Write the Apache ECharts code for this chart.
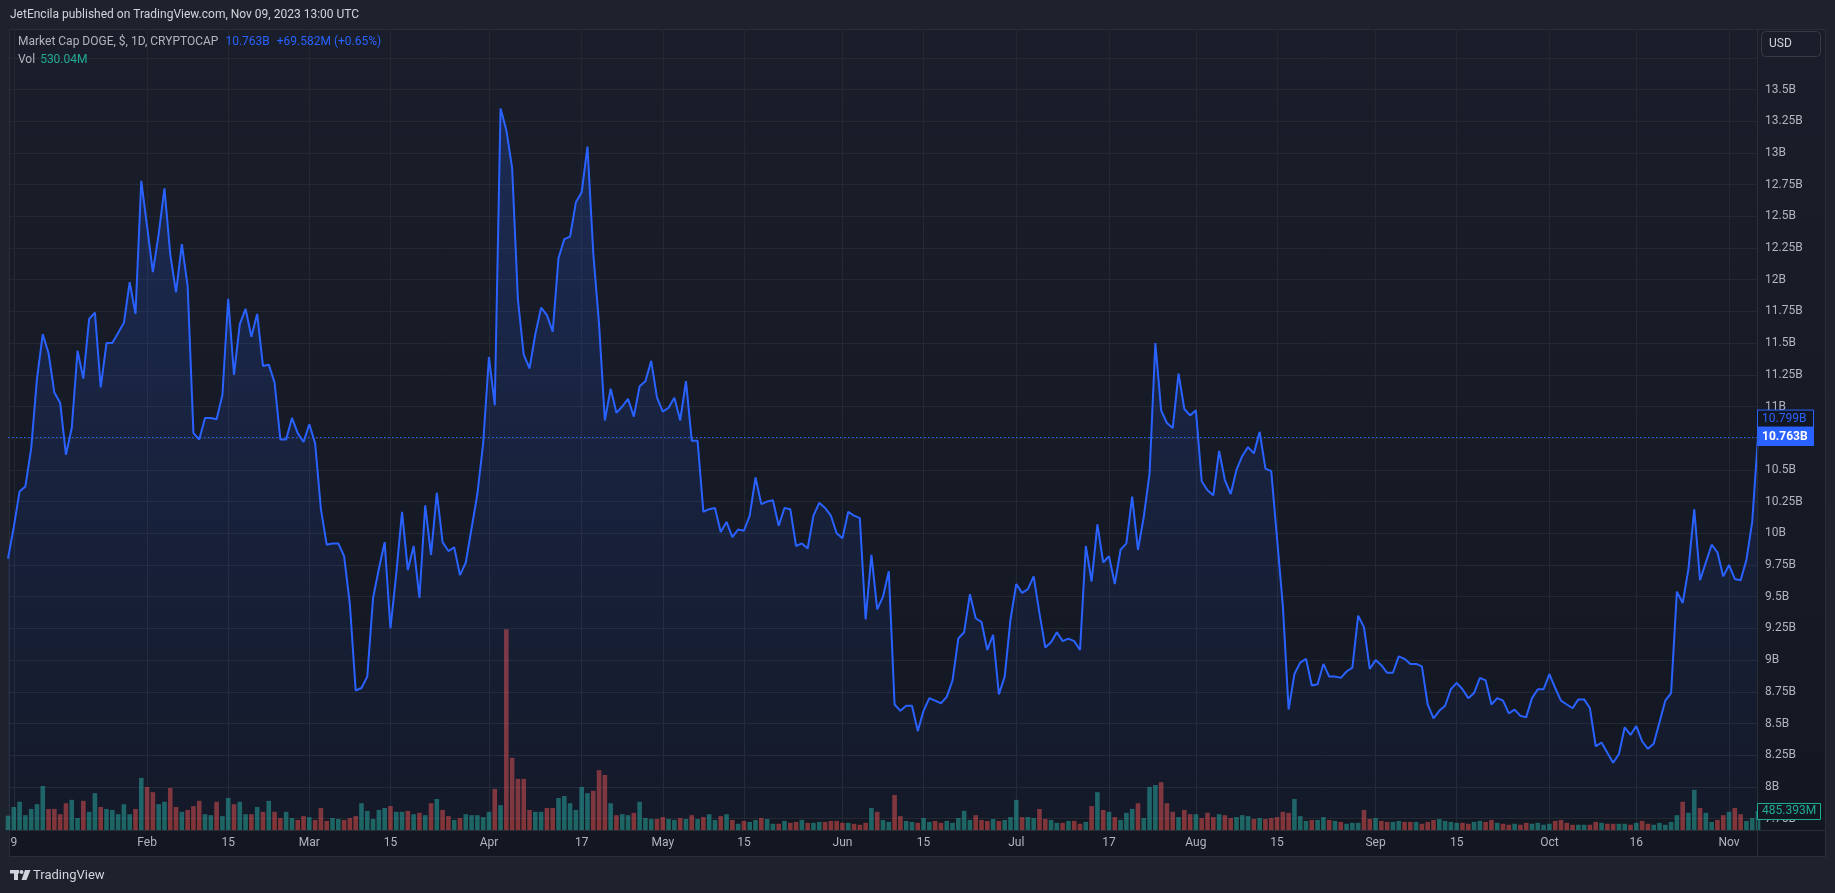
<!DOCTYPE html>
<html>
<head>
<meta charset="utf-8">
<script src="https://cdn.jsdelivr.net/npm/echarts@6/dist/echarts.min.js"></script>
<style>
html,body{margin:0;padding:0;background:#1e222d;}
#c{width:1835px;height:893px;}
</style>
</head>
<body>
<div id="c"></div>
<script>
// ---- data ----
const startDate = [2023, 0, 8]; // first daily bar: 2023-01-08
// Market cap DOGE, billions USD (daily close)
const marketCap = [
  9.80,10.05,10.33,10.37,10.67,11.22,11.57,11.42,11.11,11.03,
  10.62,10.83,11.44,11.22,11.69,11.74,11.15,11.50,11.50,11.58,
  11.66,11.98,11.73,12.78,12.42,12.06,12.36,12.72,12.20,11.90,
  12.28,11.95,10.79,10.74,10.91,10.91,10.90,11.09,11.85,11.25,
  11.65,11.77,11.55,11.73,11.32,11.33,11.19,10.74,10.74,10.91,
  10.79,10.72,10.86,10.71,10.19,9.91,9.92,9.92,9.82,9.44,
  8.76,8.78,8.87,9.49,9.72,9.93,9.25,9.68,10.17,9.71,
  9.90,9.49,10.22,9.83,10.32,9.93,9.86,9.89,9.67,9.77,
  10.04,10.31,10.71,11.39,11.01,13.35,13.18,12.88,11.84,11.41,
  11.30,11.57,11.78,11.72,11.59,12.17,12.32,12.34,12.61,12.69,
  13.05,12.21,11.65,10.89,11.14,10.95,11.00,11.06,10.92,11.16,
  11.20,11.36,11.07,10.96,10.99,11.07,10.89,11.20,10.73,10.73,
  10.17,10.19,10.20,10.01,10.09,9.97,10.03,10.02,10.14,10.44,
  10.23,10.25,10.26,10.06,10.20,10.19,9.90,9.92,9.88,10.14,
  10.24,10.20,10.14,10.00,9.96,10.17,10.14,10.12,9.32,9.83,
  9.40,9.50,9.70,8.65,8.60,8.64,8.64,8.44,8.60,8.70,
  8.68,8.66,8.71,8.84,9.17,9.22,9.52,9.33,9.30,9.08,
  9.20,8.73,8.87,9.32,9.60,9.53,9.56,9.66,9.37,9.10,
  9.14,9.22,9.15,9.17,9.15,9.08,9.90,9.62,10.07,9.77,
  9.82,9.60,9.87,9.92,10.29,9.87,10.13,10.47,11.50,10.97,
  10.87,10.83,11.26,10.98,10.93,10.97,10.41,10.34,10.30,10.65,
  10.42,10.31,10.50,10.61,10.68,10.63,10.80,10.51,10.49,9.96,
  9.43,8.61,8.89,8.98,9.01,8.80,8.81,8.97,8.87,8.87,
  8.86,8.91,8.94,9.35,9.26,8.93,9.00,8.96,8.90,8.90,
  9.03,9.01,8.97,8.97,8.95,8.65,8.54,8.60,8.64,8.77,
  8.82,8.77,8.70,8.74,8.86,8.84,8.65,8.70,8.68,8.58,
  8.61,8.56,8.55,8.70,8.77,8.77,8.89,8.78,8.68,8.65,
  8.62,8.69,8.69,8.62,8.32,8.35,8.27,8.19,8.26,8.47,
  8.41,8.48,8.36,8.30,8.34,8.51,8.68,8.74,9.54,9.45,
  9.72,10.19,9.63,9.77,9.91,9.85,9.66,9.75,9.64,9.63,
  9.79,10.09,10.763
];
// Volume, millions USD
const volume = [
  366,586,720,378,537,659,1122,537,537,403,
  683,769,305,744,464,939,586,537,512,403,
  659,403,537,1330,1098,964,659,720,1074,586,
  464,512,610,744,403,378,720,354,817,659,
  720,403,403,586,464,744,464,305,464,305,
  256,354,329,256,561,232,305,281,256,305,
  354,683,488,281,512,561,610,464,464,488,
  403,439,378,683,793,512,354,256,305,403,
  378,378,329,464,1049,634,5124,1842,1305,1305,
  512,464,464,561,561,817,866,683,512,1098,
  939,1000,1525,1403,683,378,403,378,439,720,
  305,281,281,329,281,256,305,281,378,281,
  329,403,256,354,403,256,159,232,207,256,
  305,281,159,159,232,183,207,256,183,183,
  207,207,232,232,183,183,159,134,183,561,
  464,256,207,891,354,232,207,183,305,207,
  232,183,232,183,305,488,256,378,256,232,
  281,232,256,329,769,329,329,305,537,281,
  256,183,183,232,232,159,207,610,964,512,
  464,329,256,439,537,683,305,1098,1147,1220,
  683,464,329,512,403,403,305,439,329,403,
  378,305,329,378,354,281,305,281,305,329,
  464,439,793,354,232,256,256,329,256,232,
  207,159,183,183,512,281,305,232,207,207,
  232,207,207,207,159,207,256,281,232,207,
  183,183,159,207,232,207,256,183,159,134,
  159,134,183,159,183,134,159,232,256,183,
  134,134,134,134,207,183,159,159,159,159,
  134,183,232,159,134,183,134,207,378,720,
  439,1025,561,439,207,256,378,464,561,403,
  232,305,485.393
];
const tickDates = ['2023-01-09','2023-02-01','2023-02-15','2023-03-01','2023-03-15','2023-04-01','2023-04-17',
  '2023-05-01','2023-05-15','2023-06-01','2023-06-15','2023-07-01','2023-07-17','2023-08-01','2023-08-15',
  '2023-09-01','2023-09-15','2023-10-01','2023-10-16','2023-11-01'];
const tickLabels = ['9','Feb','15','Mar','15','Apr','17','May','15','Jun','15','Jul','17','Aug','15','Sep','15','Oct','16','Nov'];
const priceMin = 7.75, priceMax = 13.75, priceStep = 0.25;
const lastClose = 10.763, lastHigh = 10.799, lastVolume = 485.393;
const headerText = 'JetEncila published on TradingView.com, Nov 09, 2023 13:00 UTC';
const legendTitle = 'Market Cap DOGE, $, 1D, CRYPTOCAP';
const legendValue = '10.763B', legendChange = '+69.582M (+0.65%)', legendVol = '530.04M';

// ---- derived ----
const dates = marketCap.map((_, i) => new Date(Date.UTC(startDate[0], startDate[1], startDate[2] + i)).toISOString().slice(0, 10));
const labelMap = {};
tickDates.forEach((d, i) => labelMap[d] = tickLabels[i]);
const isTick = (i, v) => labelMap[v] !== undefined;

const BLUE = '#2962ff', UP = 'rgba(38,166,154,0.55)', DOWN = 'rgba(239,83,80,0.5)', TEAL = '#22ab94';
const GRID = '#242833', AXIS_TXT = '#b2b5be';
const FONT = 'Roboto, "Noto Sans", sans-serif';
const L = 8, R = 77;

const chart = echarts.init(document.getElementById('c'), null, {renderer: 'canvas', width: 1835, height: 893});

const option = {
  backgroundColor: '#1e222d',
  animation: false,
  textStyle: {fontFamily: FONT},
  grid: [
    {left: L, right: R, top: 29, bottom: 63},
    {left: L, right: R, top: 57.8, bottom: 74.4},
    {left: L, right: R, top: 438, bottom: 63}
  ],
  xAxis: [
    {gridIndex: 0, type: 'category', data: dates, boundaryGap: false,
     axisLine: {show: false}, axisTick: {show: false, interval: isTick},
     axisLabel: {interval: isTick, formatter: v => labelMap[v] || '', color: AXIS_TXT, fontSize: 12, margin: 7, fontFamily: FONT},
     splitLine: {show: true, interval: isTick, lineStyle: {color: GRID, width: 1}}},
    {gridIndex: 1, type: 'category', data: dates, boundaryGap: false, show: false},
    {gridIndex: 2, type: 'category', data: dates, boundaryGap: false, show: false}
  ],
  yAxis: [
    {gridIndex: 0, type: 'value', min: 0, max: 1, show: false, splitLine: {show: false}},
    {gridIndex: 1, type: 'value', position: 'right', min: priceMin, max: priceMax, interval: priceStep,
     axisLine: {show: false}, axisTick: {show: false},
     axisLabel: {color: AXIS_TXT, fontSize: 12, margin: 7, showMaxLabel: false, fontFamily: FONT,
       formatter: v => (+v.toFixed(2)) + 'B'},
     splitLine: {show: true, lineStyle: {color: GRID, width: 1}}},
    {gridIndex: 2, type: 'value', min: 0, max: 10000, show: false, splitLine: {show: false}}
  ],
  series: [
    {type: 'bar', xAxisIndex: 2, yAxisIndex: 2, barWidth: 4.6, z: 1,
     data: volume.map((v, i) => ({value: v, itemStyle: {color: (i === 0 || marketCap[i] >= marketCap[i - 1]) ? UP : DOWN}}))},
    {type: 'line', xAxisIndex: 1, yAxisIndex: 1, data: marketCap, symbol: 'none', z: 3,
     lineStyle: {color: BLUE, width: 2},
     areaStyle: {color: new echarts.graphic.LinearGradient(0, 0, 0, 1, [
       {offset: 0, color: 'rgba(41,98,255,0.28)'},
       {offset: 1, color: 'rgba(41,98,255,0.04)'}])},
     markLine: {silent: true, symbol: ['none', 'none'], label: {show: false},
       emphasis: {disabled: true},
       lineStyle: {color: BLUE, type: [1.5, 2.5], width: 1.2, opacity: 1},
       data: [{yAxis: lastClose}]}}
  ]
};
chart.setOption(option);

const yClose = chart.convertToPixel({yAxisIndex: 1}, lastClose);
const yVol = chart.convertToPixel({yAxisIndex: 2}, lastVolume);

const els = [
  {type: 'rect', z: -100, silent: true, shape: {x: 9.5, y: 29.5, width: 1816, height: 827},
   style: {fill: new echarts.graphic.LinearGradient(0, 0, 0, 1, [{offset: 0, color: '#1a1e2a'}, {offset: 1, color: '#131722'}]), stroke: '#2a2e39', lineWidth: 1}},
  {type: 'line', z: 5, silent: true, shape: {x1: 9.5, y1: 830.5, x2: 1825.5, y2: 830.5}, style: {stroke: '#2a2e39', lineWidth: 1}},
  {type: 'line', z: 5, silent: true, shape: {x1: 1757.5, y1: 29.5, x2: 1757.5, y2: 856.5}, style: {stroke: '#2a2e39', lineWidth: 1}},
  {type: 'text', z: 10, silent: true, x: 10, y: 15, style: {text: headerText, fill: '#d1d4dc', font: '12px ' + FONT, verticalAlign: 'middle'}},
  {type: 'text', z: 10, silent: true, x: 18, y: 42, style: {
    text: '{a|' + legendTitle + '}{b|' + legendValue + '}{b|' + legendChange + '}',
    verticalAlign: 'middle',
    rich: {a: {fill: '#b2b5be', font: '12px ' + FONT}, b: {fill: BLUE, font: '12px ' + FONT, padding: [0, 0, 0, 7]}}}},
  {type: 'text', z: 10, silent: true, x: 18, y: 60, style: {
    text: '{a|Vol}{c|' + legendVol + '}', verticalAlign: 'middle',
    rich: {a: {fill: '#b2b5be', font: '12px ' + FONT}, c: {fill: TEAL, font: '12px ' + FONT, padding: [0, 0, 0, 5]}}}},
  {type: 'rect', z: 10, silent: true, shape: {x: 1761.5, y: 31.5, width: 59, height: 25, r: 4}, style: {fill: '#1a1e2a', stroke: '#363a45', lineWidth: 1}},
  {type: 'text', z: 11, silent: true, x: 1769, y: 44, style: {text: 'USD', fill: '#d1d4dc', font: '12px ' + FONT, verticalAlign: 'middle'}},
  // price tags
  {type: 'rect', z: 20, silent: true, shape: {x: 1757.5, y: yClose - 26.5, width: 56, height: 17}, style: {fill: '#131722', stroke: BLUE, lineWidth: 1}},
  {type: 'text', z: 21, silent: true, x: 1762, y: yClose - 18, style: {text: lastHigh.toFixed(3) + 'B', fill: BLUE, font: '12px ' + FONT, verticalAlign: 'middle'}},
  {type: 'rect', z: 22, silent: true, shape: {x: 1757, y: yClose - 9.5, width: 57, height: 19}, style: {fill: BLUE}},
  {type: 'text', z: 23, silent: true, x: 1762, y: yClose, style: {text: lastClose.toFixed(3) + 'B', fill: '#ffffff', font: 'bold 12px ' + FONT, verticalAlign: 'middle'}},
  {type: 'rect', z: 20, silent: true, shape: {x: 1757.5, y: yVol - 7.5, width: 63, height: 16}, style: {fill: '#131722', stroke: TEAL, lineWidth: 1}},
  {type: 'text', z: 21, silent: true, x: 1762, y: yVol + 0.5, style: {text: lastVolume.toFixed(3) + 'M', fill: TEAL, font: '12px ' + FONT, verticalAlign: 'middle'}},
  // TradingView logo
  {type: 'rect', z: 10, silent: true, shape: {x: 10, y: 870, width: 9, height: 3.5}, style: {fill: '#d1d4dc'}},
  {type: 'rect', z: 10, silent: true, shape: {x: 14, y: 870, width: 4, height: 10}, style: {fill: '#d1d4dc'}},
  {type: 'circle', z: 10, silent: true, shape: {cx: 21.5, cy: 872, r: 2}, style: {fill: '#d1d4dc'}},
  {type: 'polygon', z: 10, silent: true, shape: {points: [[25, 870], [30.5, 870], [26.5, 880], [21.5, 880]]}, style: {fill: '#d1d4dc'}},
  {type: 'text', z: 10, silent: true, x: 33, y: 876, style: {text: 'TradingView', fill: '#d1d4dc', font: '13px ' + FONT, verticalAlign: 'middle'}}
];
chart.setOption({graphic: {elements: els}});
</script>
</body>
</html>
